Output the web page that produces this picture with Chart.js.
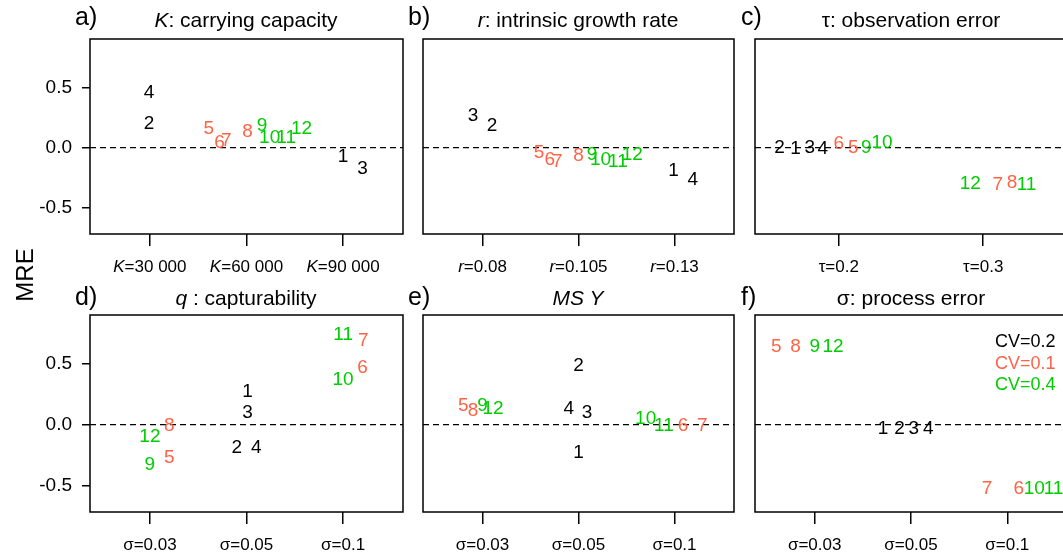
<!DOCTYPE html>
<html>
<head>
<meta charset="utf-8">
<script src="https://cdn.jsdelivr.net/npm/chart.js@4.4.1/dist/chart.umd.min.js"></script>
<style>
  html, body { margin: 0; padding: 0; background: #fff; overflow: hidden; }
  #wrap { position: relative; width: 1063px; height: 558px; overflow: hidden;
          font-family: "Liberation Sans", Arial, sans-serif; color: #000; }
  #wrap canvas { position: absolute; left: 0; top: 0; }
  .t { position: absolute; white-space: nowrap; line-height: 1; }
  .letter { font-size: 25px; }
  .title { font-size: 21px; transform: translateX(-50%); }
  .legend { font-size: 18px; }
</style>
</head>
<body>
<div id="wrap">
  <canvas id="pa" width="1080" height="558"></canvas>
  <canvas id="pb" width="1080" height="558"></canvas>
  <canvas id="pc" width="1080" height="558"></canvas>
  <canvas id="pd" width="1080" height="558"></canvas>
  <canvas id="pe" width="1080" height="558"></canvas>
  <canvas id="pf" width="1080" height="558"></canvas>

  <div class="t" style="left:25px;top:275px;font-size:24px;transform:translate(-50%,-50%) rotate(-90deg);">MRE</div>

  <div class="t letter" style="left:75px;top:4px;">a)</div>
  <div class="t letter" style="left:408px;top:4px;">b)</div>
  <div class="t letter" style="left:741px;top:4px;">c)</div>
  <div class="t letter" style="left:75px;top:284px;">d)</div>
  <div class="t letter" style="left:408px;top:284px;">e)</div>
  <div class="t letter" style="left:741px;top:284px;">f)</div>

  <div class="t title" style="left:246px;top:9px;"><i>K</i>: carrying capacity</div>
  <div class="t title" style="left:578px;top:9px;"><i>r</i>: intrinsic growth rate</div>
  <div class="t title" style="left:911px;top:9px;">τ: observation error</div>
  <div class="t title" style="left:246px;top:287px;"><i>q</i> : capturability</div>
  <div class="t title" style="left:578px;top:287px;"><i>MS Y</i></div>
  <div class="t title" style="left:911px;top:287px;">σ: process error</div>

  <div id="legend"></div>
</div>

<script>
// scenario numbers, grouped by CV of the index: 1-4, 5-8, 9-12
const scenarios = ['1', '2', '3', '4', '5', '6', '7', '8', '9', '10', '11', '12'];
const cvLabels = ['CV=0.2', 'CV=0.1', 'CV=0.4'];
const cvColors = ['#000000', '#ff6347', '#00cd00'];

const yTicks = [-0.5, 0, 0.5];
const yMin = -0.72, yMax = 0.905;

// a) K: carrying capacity
const kTicks = [1, 2, 3];
const kTickLabels = ['K=30 000', 'K=60 000', 'K=90 000'];
const kX = [3.00, 0.99, 3.20, 0.99, 1.61, 1.72, 1.79, 2.01, 2.16, 2.24, 2.41, 2.57];
const kY = [-0.08, 0.20, -0.18, 0.46, 0.156, 0.044, 0.058, 0.136, 0.18, 0.086, 0.078, 0.16];

// b) r: intrinsic growth rate
const rTicks = [1, 2, 3];
const rTickLabels = ['r=0.08', 'r=0.105', 'r=0.13'];
const rX = [2.99, 1.10, 0.90, 3.19, 1.59, 1.70, 1.78, 2.00, 2.14, 2.23, 2.41, 2.56];
const rY = [-0.197, 0.183, 0.267, -0.27, -0.039, -0.10, -0.114, -0.067, -0.058, -0.10, -0.12, -0.06];

// c) tau: observation error
const tTicks = [1, 2];
const tTickLabels = ['τ=0.2', 'τ=0.3'];
const tX = [0.70, 0.59, 0.80, 0.89, 1.10, 1.00, 2.10, 2.20, 1.19, 1.30, 2.30, 1.91];
const tY = [-0.01, 0.0, 0.0, -0.01, 0.0, 0.03, -0.31, -0.29, 0.0, 0.044, -0.31, -0.30];

// d) q: capturability
const qTicks = [1, 2, 3];
const qTickLabels = ['σ=0.03', 'σ=0.05', 'σ=0.1'];
const qX = [2.01, 1.90, 2.01, 2.10, 1.20, 3.20, 3.21, 1.20, 1.00, 3.00, 3.00, 1.00];
const qY = [0.27, -0.19, 0.10, -0.19, -0.27, 0.47, 0.69, -0.01, -0.33, 0.37, 0.74, -0.10];

// e) MSY
const mTicks = [1, 2, 3];
const mTickLabels = ['σ=0.03', 'σ=0.05', 'σ=0.1'];
const mX = [2.00, 2.00, 2.09, 1.90, 0.80, 3.09, 3.29, 0.90, 1.00, 2.70, 2.89, 1.11];
const mY = [-0.23, 0.49, 0.10, 0.13, 0.16, -0.01, -0.01, 0.115, 0.16, 0.047, -0.01, 0.135];

// f) sigma: process error
const sTicks = [1, 2, 3];
const sTickLabels = ['σ=0.03', 'σ=0.05', 'σ=0.1'];
const sX = [1.71, 1.88, 2.03, 2.18, 0.60, 3.12, 2.79, 0.80, 1.00, 3.28, 3.48, 1.19];
const sY = [-0.035, -0.035, -0.035, -0.035, 0.64, -0.53, -0.53, 0.64, 0.64, -0.53, -0.53, 0.64];

const FONT = '"Liberation Sans", Arial, sans-serif';
const CANVAS_W = 1080, CANVAS_H = 558;
const Y_AXIS_W = 60, X_AXIS_H = 46;

// ── plugins ──────────────────────────────────────────────
const numberLabels = {
  id: 'numberLabels',
  afterDatasetsDraw(chart) {
    const ctx = chart.ctx;
    chart.data.datasets.forEach((ds, i) => {
      if (!ds.tags) return;
      const meta = chart.getDatasetMeta(i);
      ctx.save();
      ctx.font = '19px ' + FONT;
      ctx.fillStyle = ds.textColor;
      ctx.textAlign = 'center';
      ctx.textBaseline = 'middle';
      meta.data.forEach((pt, j) => ctx.fillText(ds.tags[j], pt.x, pt.y));
      ctx.restore();
    });
  }
};

// x tick labels, first letter optionally italic
const xLabels = {
  id: 'xLabels',
  afterDraw(chart) {
    const opt = chart.options.plugins.xLabels;
    const sx = chart.scales.x;
    const ctx = chart.ctx;
    const y = chart.chartArea.bottom + 33;
    const fItal = 'italic 17px ' + FONT, fNorm = '17px ' + FONT;
    ctx.save();
    ctx.fillStyle = '#000';
    ctx.textBaseline = 'middle';
    ctx.textAlign = 'left';
    opt.values.forEach((v, i) => {
      const txt = opt.labels[i];
      const head = opt.italic ? txt[0] : '';
      const rest = opt.italic ? txt.slice(1) : txt;
      ctx.font = fItal; const w1 = head ? ctx.measureText(head).width : 0;
      ctx.font = fNorm; const w2 = ctx.measureText(rest).width;
      let x0 = sx.getPixelForValue(v) - (w1 + w2) / 2;
      if (head) { ctx.font = fItal; ctx.fillText(head, x0, y); x0 += w1; }
      ctx.font = fNorm; ctx.fillText(rest, x0, y);
    });
    ctx.restore();
  }
};

const boxPlugin = {
  id: 'box',
  afterDraw(chart) {
    const a = chart.chartArea;
    const ctx = chart.ctx;
    ctx.save();
    ctx.strokeStyle = '#000';
    ctx.lineWidth = 1.5;
    ctx.strokeRect(a.left, a.top, a.right - a.left, a.bottom - a.top);
    ctx.restore();
  }
};

// ── panels ───────────────────────────────────────────────
function makePanel(id, box, xMin, xMax, ticks, tickLabels, italic, xs, ys, showY) {
  const datasets = [{
    type: 'line',
    data: [{ x: xMin, y: 0 }, { x: xMax, y: 0 }],
    borderColor: '#000',
    borderWidth: 1.3,
    borderDash: [6, 4],
    pointRadius: 0,
    showLine: true
  }];
  cvColors.forEach((col, g) => {
    const idx = [0, 1, 2, 3].map(k => g * 4 + k);
    datasets.push({
      label: cvLabels[g],
      data: idx.map(k => ({ x: xs[k], y: ys[k] })),
      tags: idx.map(k => scenarios[k]),
      textColor: col,
      pointRadius: 0,
      showLine: false
    });
  });

  const tickGrid = len => ({
    drawOnChartArea: false, drawTicks: true, tickLength: len,
    color: '#000', lineWidth: 1.5
  });
  const yW = showY ? Y_AXIS_W : 0;

  new Chart(document.getElementById(id), {
    type: 'scatter',
    data: { datasets },
    options: {
      responsive: false,
      animation: false,
      events: [],
      layout: {
        padding: {
          left: box.left - yW,
          top: box.top,
          right: CANVAS_W - box.right,
          bottom: CANVAS_H - box.bottom - X_AXIS_H
        }
      },
      plugins: {
        legend: { display: false },
        tooltip: { enabled: false },
        xLabels: { values: ticks, labels: tickLabels, italic }
      },
      scales: {
        x: {
          type: 'linear', min: xMin, max: xMax,
          afterBuildTicks: s => { s.ticks = ticks.map(v => ({ value: v })); },
          afterFit: s => { s.height = X_AXIS_H; },
          grid: tickGrid(12),
          border: { display: false },
          ticks: { display: false }
        },
        y: {
          type: 'linear', min: yMin, max: yMax,
          display: showY,
          afterBuildTicks: s => { s.ticks = yTicks.map(v => ({ value: v })); },
          afterFit: s => { s.width = yW; },
          grid: tickGrid(8),
          border: { display: false },
          ticks: {
            color: '#000', padding: 10,
            font: { family: FONT, size: 19 },
            callback: v => v.toFixed(1)
          }
        }
      }
    },
    plugins: [numberLabels, xLabels, boxPlugin]
  });
}

const top1 = { top: 39, bottom: 234 }, top2 = { top: 315, bottom: 512 };
const colA = { left: 90, right: 403 }, colB = { left: 423, right: 734 }, colC = { left: 755, right: 1067 };

makePanel('pa', { ...colA, ...top1 }, 0.38, 3.62, kTicks, kTickLabels, true, kX, kY, true);
makePanel('pb', { ...colB, ...top1 }, 0.38, 3.62, rTicks, rTickLabels, true, rX, rY, false);
makePanel('pc', { ...colC, ...top1 }, 0.42, 2.58, tTicks, tTickLabels, false, tX, tY, false);
makePanel('pd', { ...colA, ...top2 }, 0.38, 3.62, qTicks, qTickLabels, false, qX, qY, true);
makePanel('pe', { ...colB, ...top2 }, 0.38, 3.62, mTicks, mTickLabels, false, mX, mY, false);
makePanel('pf', { ...colC, ...top2 }, 0.38, 3.62, sTicks, sTickLabels, false, sX, sY, false);

// legend text in panel f
const legend = document.getElementById('legend');
cvLabels.forEach((txt, i) => {
  legend.insertAdjacentHTML('beforeend',
    `<div class="t legend" style="left:995px;top:${332 + i * 21.7}px;color:${cvColors[i]}">${txt}</div>`);
});
</script>
</body>
</html>
